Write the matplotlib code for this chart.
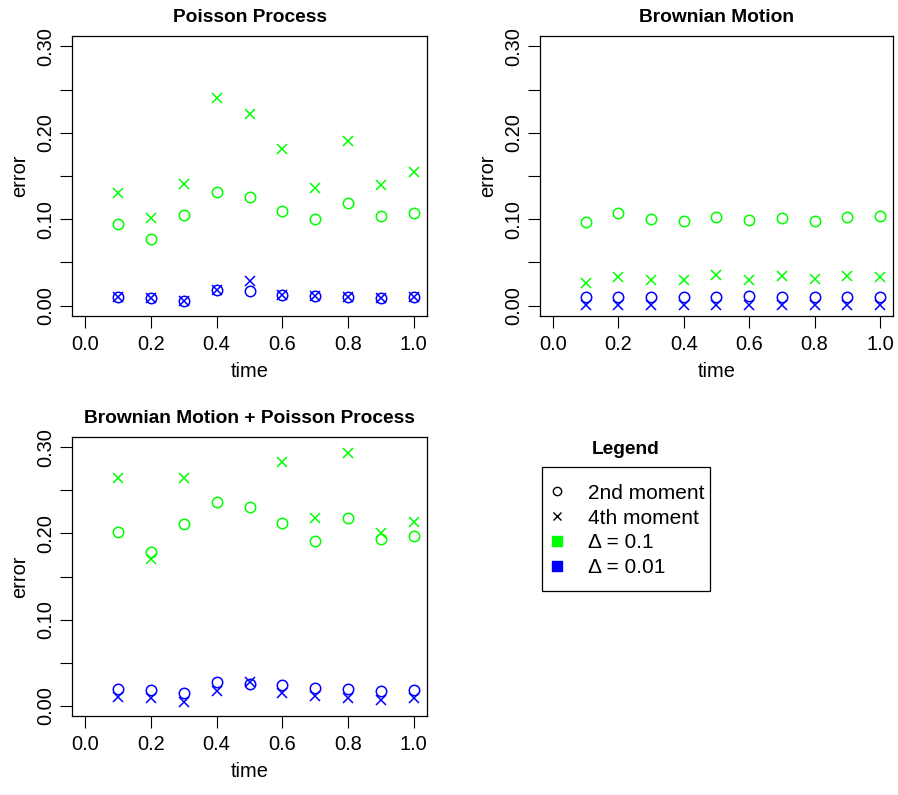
import numpy as np
import matplotlib
matplotlib.use("Agg")
import matplotlib.pyplot as plt
from matplotlib.lines import Line2D
from matplotlib.patches import Rectangle

plt.rcParams["font.family"] = ["Liberation Sans", "DejaVu Sans"]

time = [0.1, 0.2, 0.3, 0.4, 0.5, 0.6, 0.7, 0.8, 0.9, 1.0]

# Poisson process
pp_m2_coarse = [0.094, 0.077, 0.105, 0.132, 0.126, 0.109, 0.100, 0.119, 0.104, 0.107]
pp_m4_coarse = [0.130, 0.101, 0.141, 0.240, 0.222, 0.181, 0.136, 0.191, 0.140, 0.155]
pp_m2_fine = [0.0104, 0.0085, 0.0054, 0.018, 0.0165, 0.012, 0.011, 0.0096, 0.0085, 0.0096]
pp_m4_fine = [0.0104, 0.0085, 0.0054, 0.018, 0.029, 0.012, 0.011, 0.0096, 0.0085, 0.0096]

# Brownian motion
bm_m2_coarse = [0.097, 0.107, 0.100, 0.098, 0.103, 0.099, 0.1015, 0.098, 0.103, 0.1035]
bm_m4_coarse = [0.026, 0.033, 0.030, 0.0296, 0.035, 0.030, 0.0346, 0.031, 0.034, 0.033]
bm_m2_fine = [0.0095, 0.0095, 0.0095, 0.0095, 0.0095, 0.011, 0.0095, 0.0095, 0.0095, 0.0095]
bm_m4_fine = [0.001, 0.001, 0.001, 0.001, 0.001, 0.001, 0.001, 0.001, 0.001, 0.001]

# Brownian motion + Poisson process (4th moment at 0.4, 0.5 not visible)
bp_m2_coarse = [0.202, 0.179, 0.211, 0.237, 0.231, 0.212, 0.191, 0.218, 0.194, 0.197]
bp_m4_coarse = [0.264, 0.170, 0.264, np.nan, np.nan, 0.283, 0.218, 0.293, 0.200, 0.213]
bp_m2_fine = [0.019, 0.018, 0.015, 0.027, 0.025, 0.0235, 0.021, 0.019, 0.017, 0.0185]
bp_m4_fine = [0.0097, 0.0085, 0.0046, 0.017, 0.028, 0.0147, 0.0116, 0.0085, 0.0066, 0.0085]

x_ticks = [0.0, 0.2, 0.4, 0.6, 0.8, 1.0]
y_ticks = [0.00, 0.05, 0.10, 0.15, 0.20, 0.25, 0.30]
y_ticklabels = ["0.00", "", "0.10", "", "0.20", "", "0.30"]

GREEN = "#00ff00"
BLUE = "#0000ff"
FS = 14.4
W, H = 898, 795


def px_axes(fig, left, top, right, bottom):
    return fig.add_axes([left / W, 1 - bottom / H, (right - left) / W, (bottom - top) / H])


def draw_panel(ax, title, m2c, m4c, m2f, m4f):
    ms = 7.5
    ax.plot(time, m2c, ls="none", marker="o", mfc="none", mec=GREEN, ms=ms, mew=1.1)
    ax.plot(time, m4c, ls="none", marker="x", color=GREEN, ms=ms, mew=1.1)
    ax.plot(time, m2f, ls="none", marker="o", mfc="none", mec=BLUE, ms=ms, mew=1.1)
    ax.plot(time, m4f, ls="none", marker="x", color=BLUE, ms=ms, mew=1.1)
    ax.set_xlim(-0.04, 1.04)
    ax.set_ylim(-0.012, 0.312)
    ax.set_xticks(x_ticks)
    ax.set_xticklabels([f"{v:.1f}" for v in x_ticks])
    ax.set_yticks(y_ticks)
    ax.set_yticklabels(y_ticklabels, rotation=90, va="center")
    ax.tick_params(direction="out", length=8.6, width=0.8, labelsize=FS, pad=5)
    ax.tick_params(axis="y", pad=3.5)
    for s in ax.spines.values():
        s.set_linewidth(0.9)
    ax.set_xlabel("time", fontsize=FS, labelpad=6)
    ax.set_ylabel("error", fontsize=FS, labelpad=5)
    ax.set_title(title, fontsize=FS * 0.96, fontweight="bold", pad=10)


fig = plt.figure(figsize=(W / 100, H / 100), dpi=100)

ax1 = px_axes(fig, 72, 36, 427, 316)
draw_panel(ax1, "Poisson Process", pp_m2_coarse, pp_m4_coarse, pp_m2_fine, pp_m4_fine)

ax2 = px_axes(fig, 540, 36, 893, 316)
draw_panel(ax2, "Brownian Motion", bm_m2_coarse, bm_m4_coarse, bm_m2_fine, bm_m4_fine)

ax3 = px_axes(fig, 72, 437, 427, 716)
draw_panel(ax3, "Brownian Motion + Poisson Process", bp_m2_coarse, bp_m4_coarse, bp_m2_fine, bp_m4_fine)

# legend panel: title above, frame drawn separately like R's legend box
fig.text(626 / W, 1 - 449 / H, "Legend", fontsize=FS * 0.96, fontweight="bold", ha="center", va="center")
fig.patches.append(Rectangle((542 / W, 1 - 591 / H), 168 / W, 124 / H, transform=fig.transFigure,
                             fill=False, edgecolor="black", linewidth=0.9))
handles = [
    Line2D([], [], ls="none", marker="o", mfc="none", mec="black", ms=6, mew=1.0),
    Line2D([], [], ls="none", marker="x", color="black", ms=6, mew=1.0),
    Line2D([], [], ls="none", marker="s", color=GREEN, ms=7),
    Line2D([], [], ls="none", marker="s", color=BLUE, ms=7),
]
labels = ["2nd moment", "4th moment", "Δ = 0.1", "Δ = 0.01"]
leg = fig.legend(handles, labels, loc="upper left", bbox_to_anchor=(530 / W, 1 - 467 / H),
                 fontsize=15, frameon=False,
                 borderpad=0.8, labelspacing=0.28, handlelength=1.0, handletextpad=1.0,
                 borderaxespad=0)

fig.savefig("out.png", dpi=100)
